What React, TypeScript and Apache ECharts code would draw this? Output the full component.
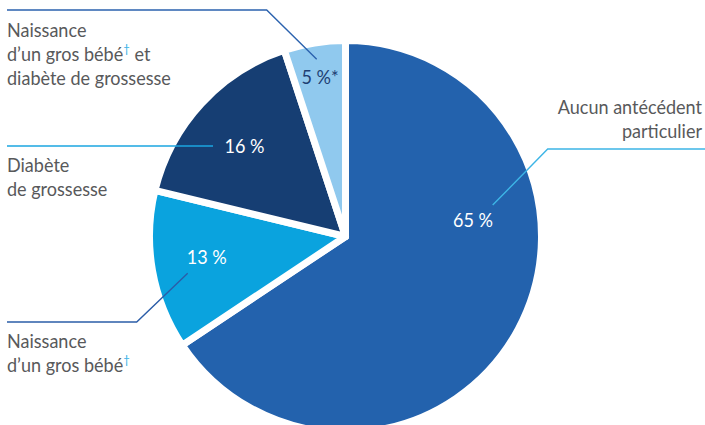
import React, { useEffect, useRef } from "react";
import * as echarts from "echarts";

// ---- Data ----
const categories = [
  "Aucun antécédent particulier",
  "Naissance d’un gros bébé",
  "Diabète de grossesse",
  "Naissance d’un gros bébé et diabète de grossesse",
];
const values = [65, 13, 16, 5];
const valueLabels = ["65 %", "13 %", "16 %", "5 %*"];

// ---- Styles ----
const sliceColors = ["#2362AD", "#0AA3DE", "#163E73", "#90C9EE"];
const valueLabelColors = ["#ffffff", "#ffffff", "#ffffff", "#1E3F73"];
const FONT = "Lato, 'DejaVu Sans Condensed', sans-serif";
const TEXT_GRAY = "#58595B";
const SUP_COLOR = "#2AAEE6";
const SX = 0.95;

export default function App() {
  const ref = useRef<HTMLDivElement | null>(null);

  useEffect(() => {
    if (!ref.current) return;
    const chart = echarts.init(ref.current, undefined, { renderer: "svg" });

    const insidePos: [number, number][] = [
      [473, 220],
      [206.7, 256.7],
      [244.5, 146.3],
      [320, 76.7],
    ];

    const supRich = {
      sup: {
        fontSize: 12,
        fontFamily: FONT,
        fill: SUP_COLOR,
        verticalAlign: "top",
        lineHeight: 24,
      },
    };

    const labelText = (x: number, y: number, text: string, align: string) => ({
      type: "text",
      x,
      y,
      z: 100,
      scaleX: SX,
      silent: true,
      style: {
        text,
        fill: TEXT_GRAY,
        fontSize: 19,
        fontFamily: FONT,
        lineHeight: 24,
        align,
        verticalAlign: "top",
        rich: supRich,
      },
    });

    const line = (points: number[][], color: string) => ({
      type: "polyline",
      z: 100,
      silent: true,
      shape: { points },
      style: { stroke: color, lineWidth: 1.4, fill: "none" },
    });

    chart.setOption({
      animation: false,
      series: [
        {
          type: "pie",
          center: [345.5, 236.5],
          radius: 196,
          startAngle: 90,
          clockwise: true,
          label: { show: false },
          labelLine: { show: false },
          emphasis: { disabled: true },
          itemStyle: { borderColor: "#ffffff", borderWidth: 7 },
          data: categories.map((name, i) => ({
            name,
            value: values[i],
            itemStyle: { color: sliceColors[i] },
          })),
        },
      ],
      graphic: [
        line([[7, 10], [266.7, 10], [316.7, 59.3]], "#2B62AE"),
        line([[7, 146], [213, 146]], "#1BA6E0"),
        line([[7, 322], [136.7, 322], [187.7, 273.3]], "#2B5DA8"),
        line([[705, 149], [547.7, 149], [492.7, 205]], "#3DB5E6"),
        labelText(7, 17.4, "Naissance\nd’un gros bébé{sup|†} et\ndiabète de grossesse", "left"),
        labelText(7, 153.1, "Diabète\nde grossesse", "left"),
        labelText(7, 329.1, "Naissance\nd’un gros bébé{sup|†}", "left"),
        labelText(702, 94.7, "Aucun antécédent\nparticulier", "right"),
        ...valueLabels.map((t, i) => ({
          type: "text",
          x: insidePos[i][0],
          y: insidePos[i][1],
          z: 100,
          scaleX: SX,
          silent: true,
          style: {
            text: t,
            fill: valueLabelColors[i],
            fontSize: 19,
            fontFamily: FONT,
            align: "center",
            verticalAlign: "middle",
          },
        })),
      ],
    });

    return () => chart.dispose();
  }, []);

  return (
    <div
      ref={ref}
      style={{ position: "absolute", left: 0, top: 0, width: 705, height: 425, background: "#fff" }}
    />
  );
}
